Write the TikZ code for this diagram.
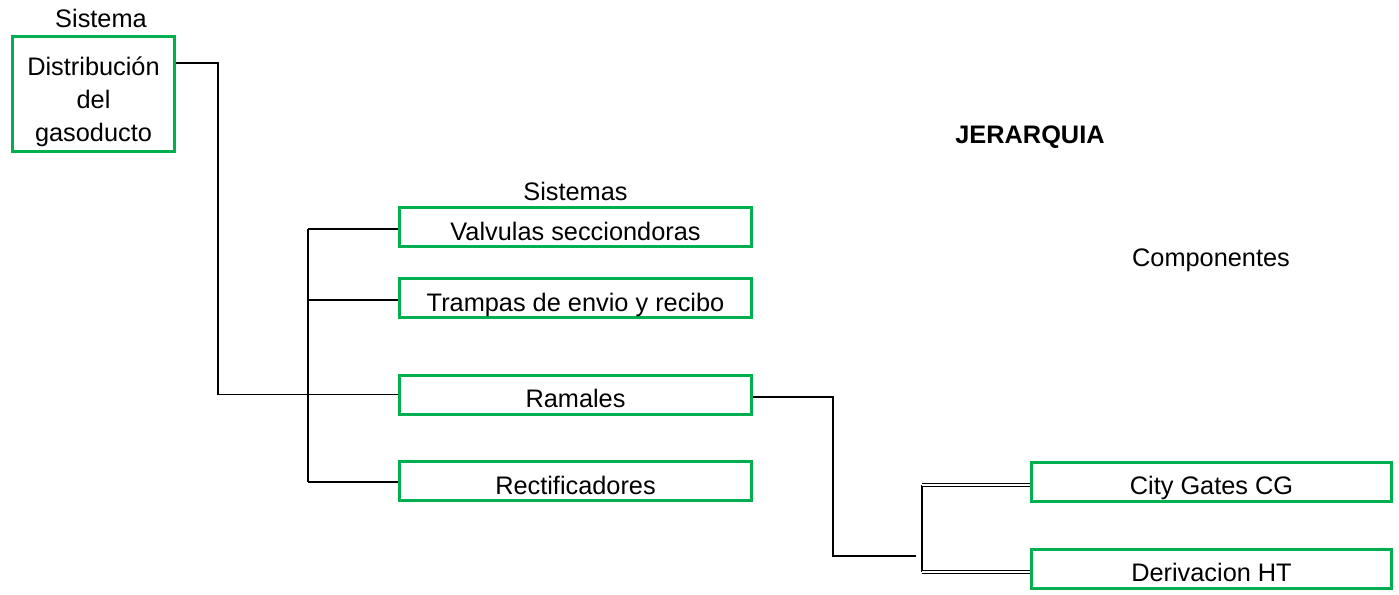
\documentclass[tikz,border=0pt]{standalone}
\usepackage{fontspec}
\setmainfont{Liberation Sans}
\usetikzlibrary{positioning}

\begin{document}
\begin{tikzpicture}[
            x = 0.75pt, y = -0.75pt,
            every node/.style = {font = \fontsize{19}{24.75}\selectfont, inner sep = 0pt},
            marco/.style = {draw = verde, line width = 2.25pt},
            cuadro/.style = {marco, minimum width = 264pt, minimum height = 29.25pt, text height = 20pt, text depth = 0pt},
            enlace/.style = {draw = black, line width = 1pt},
            doble/.style = {draw = black, line width = 0.6pt, double distance = 1.4pt}
            ]
            \definecolor{verde}{RGB}{0,176,80}
            \useasboundingbox (0,0) rectangle (1399,594);
            % sistema
            \node[marco, minimum width = 121.5pt, minimum height = 86.25pt, align = center] (dist) at (93.5,94) {\rule{0pt}{25pt}Distribución\\del\\gasoducto};
            \node (sistema) at (101,18) {Sistema};
            % sistemas
            \node[cuadro] (valv) at (575.5,227) {Valvulas secciondoras};
            \node[cuadro] (tramp) at (575.5,298) {Trampas de envio y recibo};
            \node[cuadro] (ramal) at (575.5,394.5) {Ramales};
            \node[cuadro] (rect) at (575.5,481) {Rectificadores};
            \node[above = 4pt of valv] (sistemas) {Sistemas};
            % componentes
            \node[cuadro, minimum width = 270pt] (city) at (1211.5,481.5) {City Gates CG};
            \node[cuadro, minimum width = 270pt] (deriv) at (1211.5,568.5) {Derivacion HT};
            \node[font = \fontsize{19}{24.75}\selectfont\bfseries] (jerarquia) at (1030,137) {JERARQUIA};
            \node (componentes) at (1211,260) {Componentes};
            % conectores
            \coordinate (d1) at (218,63);
            \coordinate (b1) at (308,229);
            \coordinate (b2) at (308,482);
            \coordinate (r1) at (833,397);
            \coordinate (c1) at (922,485);
            \coordinate (c2) at (922,572);
            \draw[enlace] (dist.east |- d1) -- (d1) |- (ramal.west);
            \draw[enlace] (b1) -- (b2);
            \draw[enlace] (b1) -- (valv.west |- b1);
            \draw[enlace] (308,300) -- (tramp.west |- 0,300);
            \draw[enlace] (b2) -- (rect.west |- b2);
            \draw[enlace] (ramal.east |- r1) -- (r1) |- (916,556);
            \draw[enlace] (c1) -- (c2);
            \draw[doble] (c1) -- (city.west |- c1);
            \draw[doble] (c2) -- (deriv.west |- c2);
          \end{tikzpicture}
\end{document}
